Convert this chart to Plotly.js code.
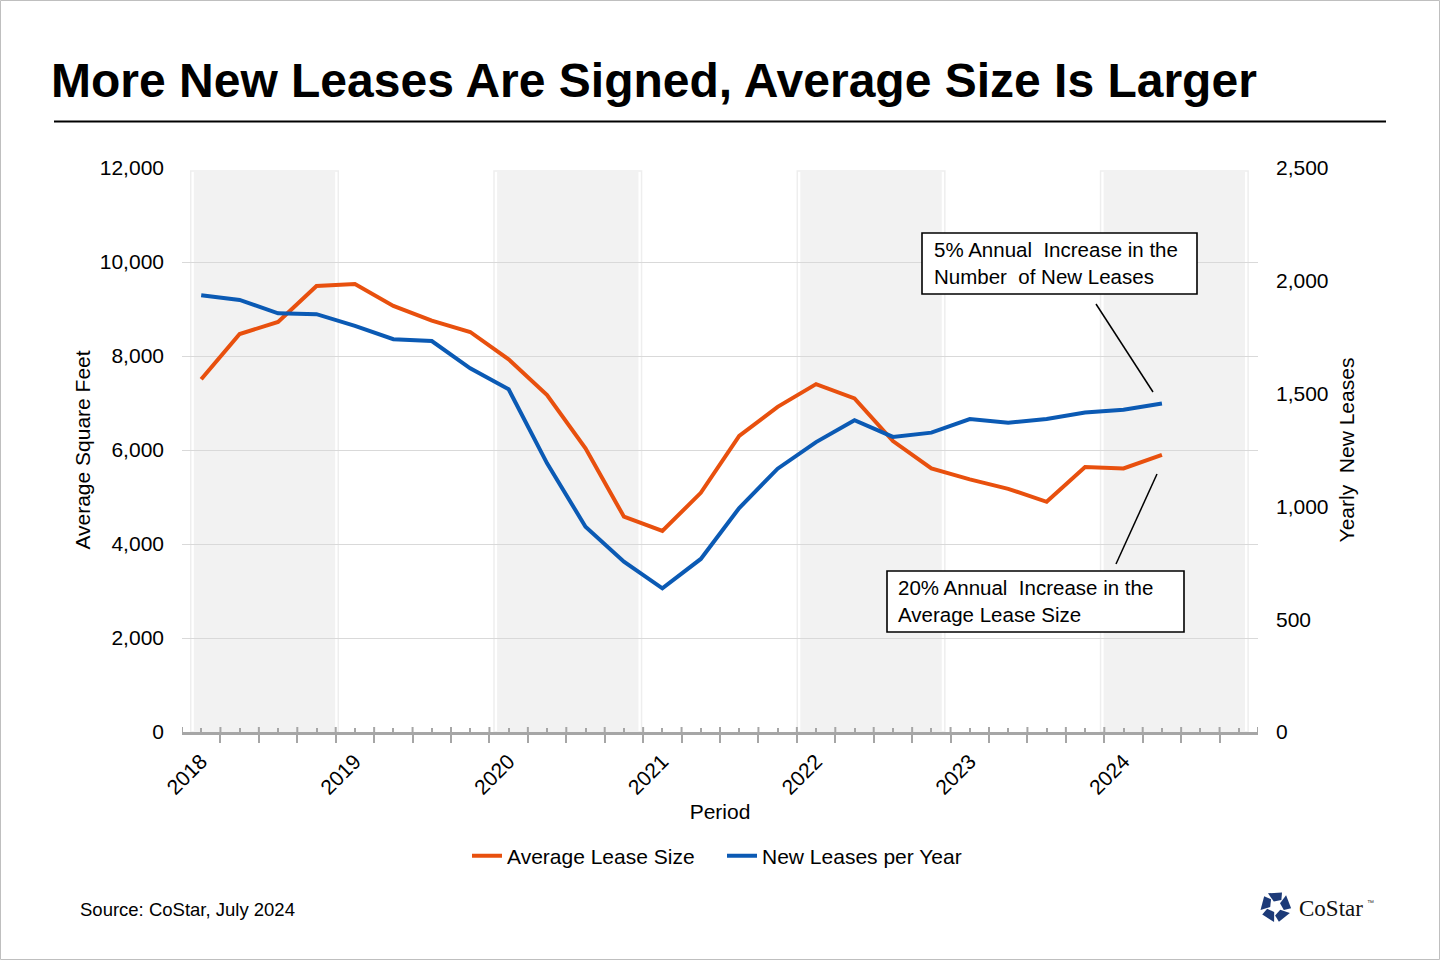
<!DOCTYPE html>
<html>
<head>
<meta charset="utf-8">
<script src="https://cdn.plot.ly/plotly-3.0.1.min.js"></script>
<style>
  html, body { margin: 0; padding: 0; background: #ffffff; }
  #chart { width: 1440px; height: 960px; }
</style>
</head>
<body>
<div id="chart"></div>
<script>
// ---------------- DATA ----------------
const quarters = [
  '2018 Q1','2018 Q2','2018 Q3','2018 Q4',
  '2019 Q1','2019 Q2','2019 Q3','2019 Q4',
  '2020 Q1','2020 Q2','2020 Q3','2020 Q4',
  '2021 Q1','2021 Q2','2021 Q3','2021 Q4',
  '2022 Q1','2022 Q2','2022 Q3','2022 Q4',
  '2023 Q1','2023 Q2','2023 Q3','2023 Q4',
  '2024 Q1','2024 Q2'
];
const yearLabels = ['2018','2019','2020','2021','2022','2023','2024'];
const shadedYears = ['2018','2020','2022','2024'];

// Average lease size (square feet, left axis)
const avgLeaseSize = [
  7504, 8468, 8723, 9489,
  9532, 9064, 8751, 8511,
  7930, 7170, 6036, 4581,
  4277, 5089, 6298, 6917,
  7402, 7096, 6191, 5609,
  5374, 5174, 4898, 5636,
  5609, 5894
];
// New leases per year (right axis)
const newLeasesPerYear = [
  1936, 1915, 1856, 1852,
  1800, 1741, 1733, 1612,
  1519, 1191, 910, 755,
  637, 767, 993, 1167,
  1285, 1382, 1308, 1327,
  1387, 1371, 1387, 1416,
  1428, 1456
];

const titleText = 'More New Leases Are Signed, Average Size Is Larger';
const note1 = '5% Annual\u00a0 Increase in the<br>Number\u00a0 of New Leases';
const note2 = '20% Annual\u00a0 Increase in the<br>Average Lease Size';
const sourceText = 'Source: CoStar, July 2024';

// ---------------- LAYOUT HELPERS ----------------
const W = 1440, H = 960;
const L = 182, R = 182, T = 168, B = 228;
const PW = W - L - R, PH = H - T - B;
const FONT = 'Liberation Sans, Arial, sans-serif';
const ORANGE = '#e8500e';
const BLUE = '#0b5ab4';
const AXIS_GRAY = '#a6a6a6';

function px(x) { return (x - L) / PW; }
function py(y) { return (H - B - y) / PH; }

const nCats = yearLabels.length * 4;
const xIdx = quarters.map((q, i) => i);
const tickvals = Array.from({length: nCats}, (_, i) => i);
const ticktext = tickvals.map(i => (i % 4 === 0 ? yearLabels[i / 4] : ''));

const shapes = [];

// Alternating year shading
shadedYears.forEach(yr => {
  const j = yearLabels.indexOf(yr);
  const c = 1.647 + 3.946 * j;
  shapes.push({
    type: 'rect', xref: 'x', yref: 'paper',
    x0: c - 1.92, x1: c + 1.92, y0: 0, y1: py(171),
    fillcolor: 'rgba(0,0,0,0)', line: {width: 1.5, color: '#eeeeee'}, layer: 'below'
  });
  shapes.push({
    type: 'rect', xref: 'x', yref: 'paper',
    x0: c - 1.84, x1: c + 1.84, y0: 0, y1: py(172),
    fillcolor: '#f2f2f2', line: {width: 0}, layer: 'below'
  });
});

// Upper halves of the crossing boundary ticks on the category axis
for (let i = 0; i <= nCats; i++) {
  shapes.push({
    type: 'line', xref: 'x', yref: 'paper',
    x0: i - 0.5, x1: i - 0.5, y0: 0, y1: py(H - B - 5),
    line: {color: AXIS_GRAY, width: 2}, layer: 'above'
  });
}

// Title underline
shapes.push({
  type: 'line', xref: 'paper', yref: 'paper',
  x0: px(54), x1: px(1386), y0: py(121.5), y1: py(121.5),
  line: {color: '#000000', width: 2}
});

// Outer border
shapes.push({
  type: 'rect', xref: 'paper', yref: 'paper',
  x0: px(0.5), x1: px(W - 0.5), y0: py(H - 0.5), y1: py(0.5),
  line: {color: '#bfbfbf', width: 1}, fillcolor: 'rgba(0,0,0,0)'
});

// Callout boxes
function box(x0, y0, x1, y1) {
  shapes.push({
    type: 'rect', xref: 'paper', yref: 'paper',
    x0: px(x0), x1: px(x1), y0: py(y1), y1: py(y0),
    fillcolor: '#ffffff', line: {color: '#000000', width: 1.6}, layer: 'above'
  });
}
box(922, 233, 1197, 294);
box(887, 571, 1184, 632);

// Connector lines
function seg(x0, y0, x1, y1) {
  shapes.push({
    type: 'line', xref: 'paper', yref: 'paper',
    x0: px(x0), y0: py(y0), x1: px(x1), y1: py(y1),
    line: {color: '#000000', width: 1.5}
  });
}
seg(1096, 304, 1153, 392);
seg(1116, 564, 1157, 474);

// CoStar logo mark (pinwheel of five blades)
(function () {
  const cx = 1275.7, cy = 906.7, Ro = 15.5, Ri = 5.5;
  for (let k = 0; k < 5; k++) {
    const a = (-90 + 72 * k) * Math.PI / 180;
    const d = Math.PI / 180;
    const pts = [
      [cx + Ro * Math.cos(a - 30 * d), cy + Ro * Math.sin(a - 30 * d)],
      [cx + Ro * Math.cos(a + 24 * d), cy + Ro * Math.sin(a + 24 * d)],
      [cx + Ri * 1.6 * Math.cos(a + 40 * d), cy + Ri * 1.6 * Math.sin(a + 40 * d)],
      [cx + Ri * Math.cos(a - 20 * d), cy + Ri * Math.sin(a - 20 * d)]
    ];
    const path = 'M ' + pts.map(p => px(p[0]) + ',' + py(p[1])).join(' L ') + ' Z';
    shapes.push({
      type: 'path', xref: 'paper', yref: 'paper', path: path,
      fillcolor: '#1c3a78', line: {width: 0}
    });
  }
})();

const annotations = [
  {
    text: note1, xref: 'paper', yref: 'paper',
    x: px(932), y: py(263), xanchor: 'left', yanchor: 'middle',
    align: 'left', showarrow: false,
    font: {family: FONT, size: 20.5, color: '#000000'}
  },
  {
    text: note2, xref: 'paper', yref: 'paper',
    x: px(896), y: py(601), xanchor: 'left', yanchor: 'middle',
    align: 'left', showarrow: false,
    font: {family: FONT, size: 20.5, color: '#000000'}
  },
  {
    text: sourceText, xref: 'paper', yref: 'paper',
    x: px(78), y: py(909), xanchor: 'left', yanchor: 'middle',
    showarrow: false,
    font: {family: FONT, size: 18.5, color: '#000000'}
  },
  {
    text: 'CoStar', xref: 'paper', yref: 'paper',
    x: px(1297), y: py(908), xanchor: 'left', yanchor: 'middle',
    showarrow: false,
    font: {family: 'Liberation Serif, Times New Roman, serif', size: 23, color: '#111111'}
  },
  {
    text: '™', xref: 'paper', yref: 'paper',
    x: px(1365), y: py(902), xanchor: 'left', yanchor: 'middle',
    showarrow: false,
    font: {family: FONT, size: 7, color: '#333333'}
  }
];

const traces = [
  {
    type: 'scatter', mode: 'lines', name: 'Average Lease Size',
    x: xIdx, y: avgLeaseSize, text: quarters,
    hovertemplate: '%{text}: %{y:,}<extra></extra>',
    line: {color: ORANGE, width: 4}, yaxis: 'y'
  },
  {
    type: 'scatter', mode: 'lines', name: 'New Leases per Year',
    x: xIdx, y: newLeasesPerYear, text: quarters,
    hovertemplate: '%{text}: %{y:,}<extra></extra>',
    line: {color: BLUE, width: 4}, yaxis: 'y2'
  }
];

const layout = {
  width: W, height: H,
  margin: {l: L, r: R, t: T, b: B, autoexpand: false},
  paper_bgcolor: '#ffffff', plot_bgcolor: 'rgba(0,0,0,0)',
  font: {family: FONT, size: 21, color: '#000000'},
  showlegend: true,
  title: {
    text: titleText, xref: 'container', yref: 'container',
    x: 51 / W, xanchor: 'left', y: 1 - 79.7 / H, yanchor: 'middle',
    font: {family: FONT, size: 48, color: '#000000', weight: 'bold'}
  },
  xaxis: {
    range: [-0.5, nCats - 0.5], type: 'linear',
    tickmode: 'array', tickvals: tickvals, ticktext: ticktext,
    tickangle: -45, ticks: 'inside', ticklen: 4, tickwidth: 2, tickcolor: AXIS_GRAY,
    ticklabelstandoff: 6,
    minor: {tickmode: 'linear', tick0: -0.5, dtick: 1, ticks: 'outside', ticklen: 8, tickwidth: 2, tickcolor: AXIS_GRAY, showgrid: false},
    showline: true, linecolor: AXIS_GRAY, linewidth: 2.5,
    showgrid: false, zeroline: false, fixedrange: true,
    tickfont: {family: FONT, size: 21, color: '#000000'},
    title: {text: 'Period', standoff: 7, font: {family: FONT, size: 21, color: '#000000'}},
    automargin: false
  },
  yaxis: {
    range: [0, 12000], tickmode: 'linear', tick0: 0, dtick: 2000,
    tickformat: ',', ticks: '', ticklabelstandoff: 17,
    showline: false, zeroline: false,
    showgrid: true, gridcolor: '#d9d9d9', gridwidth: 1,
    tickfont: {family: FONT, size: 21, color: '#000000'},
    title: {text: 'Average Square Feet', standoff: 3, font: {family: FONT, size: 21, color: '#000000'}},
    automargin: false, fixedrange: true
  },
  yaxis2: {
    overlaying: 'y', side: 'right',
    range: [0, 2500], tickmode: 'linear', tick0: 0, dtick: 500,
    tickformat: ',', ticks: '', ticklabelstandoff: 17,
    showline: false, zeroline: false, showgrid: false,
    tickfont: {family: FONT, size: 21, color: '#000000'},
    title: {text: 'Yearly\u00a0 New Leases', standoff: 11, font: {family: FONT, size: 21, color: '#000000'}},
    automargin: false, fixedrange: true
  },
  legend: {
    orientation: 'h', x: px(722), xanchor: 'center', y: py(856), yanchor: 'middle',
    font: {family: FONT, size: 21, color: '#000000'},
    bgcolor: 'rgba(0,0,0,0)', itemwidth: 30, traceorder: 'normal',
    entrywidth: 210, entrywidthmode: 'pixels'
  },
  shapes: shapes,
  annotations: annotations,
  hovermode: 'closest'
};

Plotly.newPlot('chart', traces, layout, {displayModeBar: false, responsive: false});
</script>
</body>
</html>
